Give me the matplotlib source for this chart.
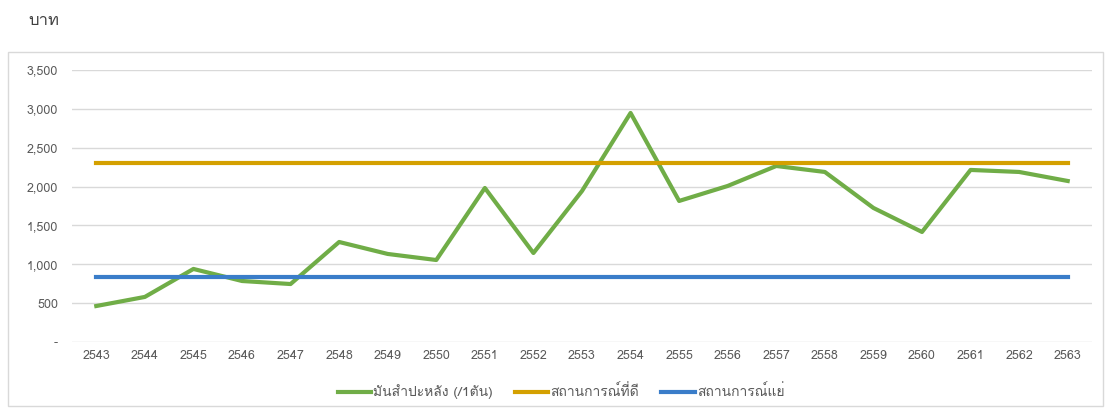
import matplotlib
matplotlib.use('Agg')
import matplotlib.pyplot as plt
from matplotlib import font_manager, ft2font
from matplotlib.patches import Rectangle
from matplotlib.ticker import FuncFormatter

years = [str(y) for y in range(2543, 2564)]
cassava = [463, 580, 940, 785, 746, 1287, 1133, 1055, 1982, 1145, 1943,
           2947, 1815, 2008, 2265, 2188, 1725, 1416, 2214, 2188, 2072]
good_case = [2300] * len(years)
bad_case = [830] * len(years)
labels = ['มันสำปะหลัง (/1ตัน)', 'สถานการณ์ที่ดี', 'สถานการณ์แย่']


def find_thai_font():
    names = []
    for f in font_manager.fontManager.ttflist:
        try:
            if 0x0E1A in ft2font.FT2Font(f.fname).get_charmap():
                names.append(f.name)
        except Exception:
            pass
    return names[0] if names else 'DejaVu Sans'


thai = find_thai_font()
plt.rcParams['font.family'] = [thai, 'DejaVu Sans']

fig = plt.figure(figsize=(11.05, 4.08), dpi=100)
ax = fig.add_axes([72 / 1105, 1 - 342 / 408, (1092 - 72) / 1105, (342 - 70) / 408])

x = range(len(years))
ax.plot(x, cassava, color='#70ad47', lw=3, label=labels[0])
ax.plot(x, good_case, color='#d4a000', lw=3, label=labels[1])
ax.plot(x, bad_case, color='#3a7dc9', lw=3, label=labels[2])

ax.set_xlim(-0.5, len(years) - 0.5)
ax.set_ylim(0, 3500)
ax.set_yticks(range(0, 3501, 500))
ax.yaxis.set_major_formatter(FuncFormatter(lambda v, p: '-' if v == 0 else f'{int(v):,}'))
ax.set_xticks(list(x))
ax.set_xticklabels(years)
ax.grid(axis='y', color='#d9d9d9', lw=1)
ax.set_axisbelow(True)
for s in ax.spines.values():
    s.set_visible(False)
ax.tick_params(length=0, labelsize=9, colors='#595959', pad=6)
ax.tick_params(axis='y', pad=10)

fig.text(28 / 1105, 1 - 21 / 408, 'บาท', fontsize=12, color='#404040', va='center')
fig.patches.append(Rectangle((8 / 1105, 2 / 408), 1095 / 1105, 354 / 408,
                             transform=fig.transFigure, fill=False,
                             edgecolor='#d9d9d9', lw=1))

fig.legend(loc='center', bbox_to_anchor=(561 / 1105, 1 - 392 / 408), ncol=3,
           frameon=False, fontsize=10, handlelength=2.4, handletextpad=0.15,
           columnspacing=1.6, labelcolor='#595959')

fig.savefig('out.png', dpi=100)
